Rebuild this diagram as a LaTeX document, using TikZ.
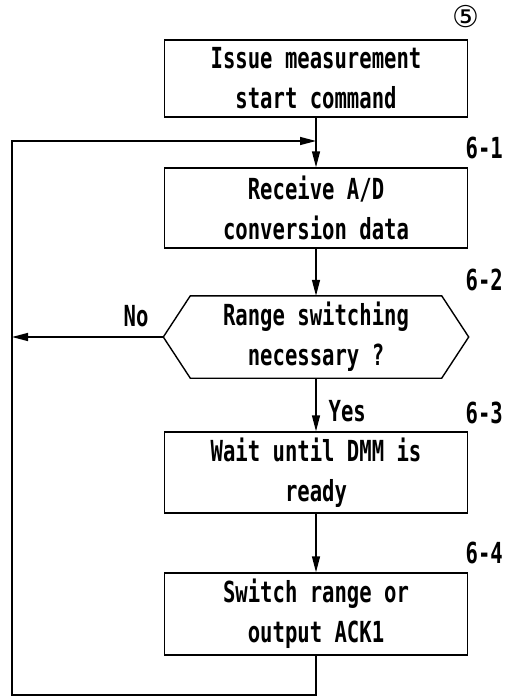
\documentclass[tikz,border=0pt]{standalone}
\usepackage{fontspec}
\setmainfont{DejaVu Sans Mono}[FakeStretch=0.71]
\newfontfamily\symfont{DejaVu Sans}
\usetikzlibrary{arrows.meta}
\begin{document}
\begin{tikzpicture}[x=1pt,y=-1pt,
  every node/.style={font=\fontsize{29}{40}\selectfont\bfseries, inner sep=0pt},
  procbox/.style={draw, line width=1.4pt, minimum width=303pt, align=center},
  conn/.style={line width=1.4pt},
  arr/.style={conn, -{Triangle[length=16pt,width=8pt]}},
  steplabel/.style={anchor=east}]
\useasboundingbox (0,0) rectangle (507,698);
% process boxes
\node[procbox, minimum height=77pt] (b1) at (316,78.5) {Issue measurement\\start command};
\node[procbox, minimum height=80pt] (b2) at (316,208) {Receive A/D\\conversion data};
\node[minimum width=305pt, minimum height=82pt, align=center] (dec) at (316,337) {Range switching\\necessary ?};
\draw[conn] ([xshift=27pt]dec.north west) -- ([xshift=-27pt]dec.north east) -- (dec.east)
  -- ([xshift=-27pt]dec.south east) -- ([xshift=27pt]dec.south west) -- (dec.west) -- cycle;
\node[procbox, minimum height=81pt] (b3) at (316,472.5) {Wait until DMM is\\ready};
\node[procbox, minimum height=82pt] (b4) at (316,614) {Switch range or\\output ACK1};
% labels
\node (c5) at (466,17) {\symfont\mdseries\fontsize{30}{30}\selectfont ⑤};
\node[steplabel] (l61) at (503,147.5) {6-1};
\node[steplabel] (l62) at (503,280) {6-2};
\node[steplabel] (l63) at (503,413) {6-3};
\node[steplabel] (l64) at (503,552.5) {6-4};
\node (no) at (136,316) {No};
% coordinates of loop
\coordinate (nol) at (12,337);
\coordinate (bl) at (12,695);
\coordinate (tl) at (12,141);
\coordinate (jn) at (316,141);
% connectors
\draw[arr] (b1.south) -- (b2.north);
\draw[arr] (b2.south) -- (dec.north);
\draw[arr] (dec.south) -- node[pos=0.62, anchor=west, xshift=12pt] (yes) {Yes} (b3.north);
\draw[arr] (b3.south) -- (b4.north);
\draw[arr] (dec.west) -- (nol);
\draw[arr] (b4.south) |- (bl) -- (tl) -- (jn);
\end{tikzpicture}
\end{document}
